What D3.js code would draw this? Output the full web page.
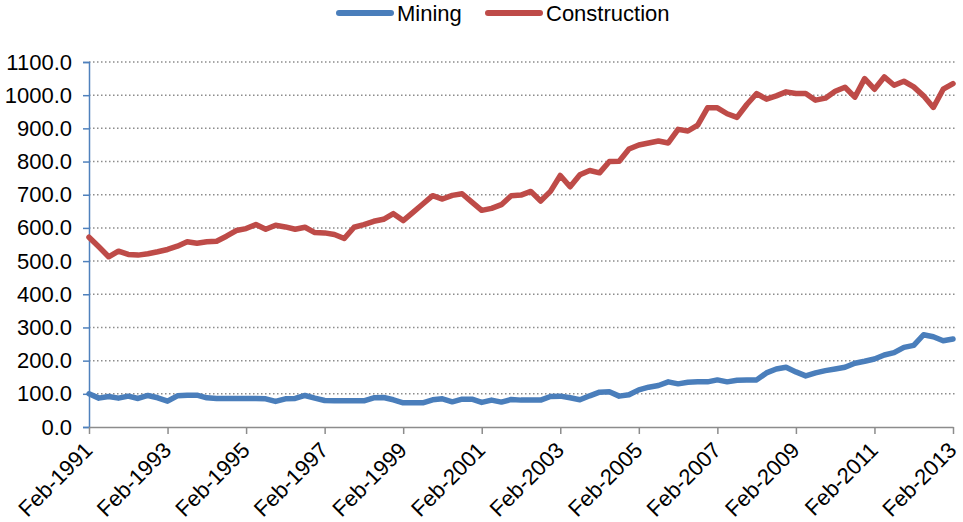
<!DOCTYPE html>
<html>
<head>
<meta charset="utf-8">
<script src="https://cdn.jsdelivr.net/npm/d3@7"></script>
<style>
  body { margin: 0; background: #fff; }
  svg text { font-family: "Liberation Sans", Arial, sans-serif; fill: #000; }
</style>
</head>
<body>
<svg width="963" height="522"></svg>
<script>
// quarterly, Feb-1991 .. Feb-2013
const mining = [100, 87, 92, 87, 93, 86, 95, 88, 78, 94, 96, 96, 88, 86, 86, 86, 86, 86, 85, 77,
  85, 86, 95, 87, 80, 79, 79, 79, 79, 88, 89, 82, 73, 73, 73, 82, 85, 76, 84, 84,
  74, 81, 75, 83, 81, 81, 81, 92, 93, 88, 82, 94, 105, 106, 93, 97, 112, 120, 125, 136,
  130, 135, 136, 136, 142, 136, 141, 142, 142, 163, 175, 180, 166, 154, 163, 170, 175, 180, 192, 198,
  205, 217, 224, 240, 246, 278, 272, 260, 265];
const construction = [572, 543, 513, 530, 520, 518, 522, 528, 535, 545, 558, 554, 558, 560, 575, 592, 598, 610, 596, 608,
  603, 596, 602, 586, 585, 580, 568, 602, 610, 620, 626, 643, 622, 647, 672, 697, 687, 698, 703, 678,
  653, 659, 670, 697, 699, 710, 681, 710, 758, 724, 760, 773, 766, 800, 801, 838, 850, 856, 862, 856,
  897, 892, 910, 962, 962, 944, 933, 972, 1005, 988, 998, 1010, 1005, 1005, 985, 991, 1012, 1024, 994, 1050,
  1018, 1055, 1030, 1042, 1025, 998, 963, 1018, 1035];
const tickIdx = [0, 8, 16, 24, 32, 40, 48, 56, 64, 72, 80, 88];
const tickLabels = ['Feb-1991', 'Feb-1993', 'Feb-1995', 'Feb-1997', 'Feb-1999', 'Feb-2001',
  'Feb-2003', 'Feb-2005', 'Feb-2007', 'Feb-2009', 'Feb-2011', 'Feb-2013'];
const yTicks = d3.range(0, 1101, 100);

const svg = d3.select('svg');
const x = d3.scaleLinear().domain([0, mining.length - 1]).range([89, 953]);
const y = d3.scaleLinear().domain([0, 1100]).range([427, 62]);
const font = '"Liberation Sans", Arial, sans-serif';

// grid
svg.append('g').selectAll('line').data(yTicks.slice(1)).join('line')
  .attr('x1', 89).attr('x2', 956)
  .attr('y1', d => y(d)).attr('y2', d => y(d))
  .attr('stroke', '#8c8c8c').attr('stroke-width', 1.5).attr('stroke-dasharray', '1.5,2.5');

// y axis
const yAxis = svg.append('g').attr('transform', 'translate(89,0)')
  .call(d3.axisLeft(y).tickValues(yTicks).tickFormat(d3.format('.1f')).tickSize(6).tickPadding(11));
yAxis.select('.domain').attr('stroke', '#4f81bd').attr('stroke-width', 1.5);
yAxis.selectAll('.tick line').attr('stroke', '#4f81bd').attr('stroke-width', 1.5);
yAxis.selectAll('text').attr('font-size', 22).style('font-family', font).attr('fill', '#000');

// x axis
const xAxis = svg.append('g').attr('transform', `translate(0,${y(0)})`)
  .call(d3.axisBottom(x).tickValues(tickIdx).tickFormat((d, i) => tickLabels[i]).tickSize(7).tickSizeOuter(0));
xAxis.select('.domain').attr('stroke', '#8c8c8c').attr('stroke-width', 1.5);
xAxis.selectAll('.tick line').attr('stroke', '#8c8c8c').attr('stroke-width', 1.5);
xAxis.selectAll('text')
  .attr('font-size', 22).style('font-family', font).attr('fill', '#000')
  .attr('text-anchor', 'end').attr('dy', '0.35em')
  .attr('transform', 'translate(-8,12) rotate(-45)');

const line = d3.line().x((d, i) => x(i)).y(d => y(d));
svg.append('path').datum(mining).attr('d', line)
  .attr('fill', 'none').attr('stroke', '#4a7ebb').attr('stroke-width', 5.5)
  .attr('stroke-linejoin', 'round').attr('stroke-linecap', 'round');
svg.append('path').datum(construction).attr('d', line)
  .attr('fill', 'none').attr('stroke', '#be4b48').attr('stroke-width', 5.5)
  .attr('stroke-linejoin', 'round').attr('stroke-linecap', 'round');

// legend
const legend = [{name: 'Mining', color: '#4a7ebb', x: 339}, {name: 'Construction', color: '#be4b48', x: 488}];
const lg = svg.append('g').selectAll('g').data(legend).join('g')
  .attr('transform', d => `translate(${d.x},13)`);
lg.append('line').attr('x1', 0).attr('x2', 52)
  .attr('stroke', d => d.color).attr('stroke-width', 6).attr('stroke-linecap', 'round');
lg.append('text').attr('x', 58).attr('dy', '0.35em').attr('font-size', 22).text(d => d.name);
</script>
</body>
</html>
